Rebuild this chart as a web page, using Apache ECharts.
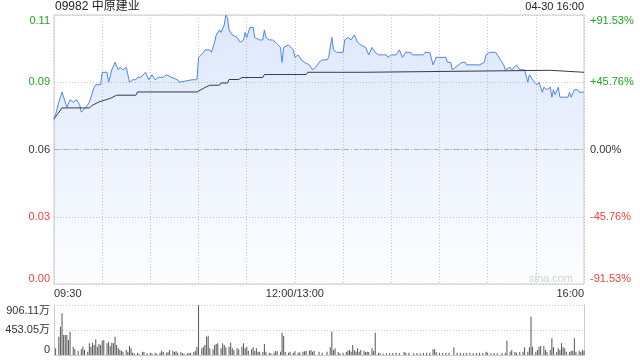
<!DOCTYPE html>
<html>
<head>
<meta charset="utf-8">
<script src="https://cdn.jsdelivr.net/npm/echarts@6/dist/echarts.min.js"></script>
<style>html,body{margin:0;padding:0;background:#fff}#c{width:640px;height:360px}</style>
</head>
<body>
<div id="c"></div>
<script>
const titleText = '09982 中原建业';
const dateText = '04-30 16:00';
const prevClose = 0.059;
const rangePct = 91.53;
const priceTickLabels = ['0.00', '0.03', '0.06', '0.09', '0.11'];
const pctTickLabels = ['-91.53%', '-45.76%', '0.00%', '+45.76%', '+91.53%'];
const volTickLabels = ['0', '453.05万', '906.11万'];
const volMax = 906.11;
const timeTickLabels = {0: '09:30', 150: '12:00/13:00', 330: '16:00'};

const priceMin = [0,1,3,5,6,8,10,12,14,16,17,20,22,23,25,26,29,30,33,34,36,38,40,41,43,45,46,47,49,51,52,54,57,59,61,63,65,68,70,73,77,78,86,89,90,93,94,97,98,100,101,103,104,106,107,108,109,111,112,114,116,118,119,120,122,124,125,128,130,131,132,134,136,138,139,141,142,143,146,147,149,150,152,154,156,159,161,163,165,167,170,171,173,174,176,180,181,183,184,185,187,189,191,194,196,198,200,202,205,207,208,210,213,215,217,219,222,223,230,231,234,236,238,244,245,247,248,252,254,256,257,259,265,268,269,271,275,278,280,281,284,285,288,290,293,295,296,298,299,301,302,304,305,307,309,310,311,312,314,315,320,321,322,324,326,327,330];
const priceVal = [0.071,0.073,0.078,0.082,0.080,0.076,0.079,0.078,0.079,0.077,0.074,0.076,0.078,0.080,0.084,0.085,0.085,0.090,0.090,0.086,0.091,0.094,0.091,0.092,0.091,0.092,0.089,0.086,0.087,0.087,0.088,0.088,0.090,0.087,0.089,0.087,0.088,0.088,0.089,0.088,0.087,0.086,0.087,0.087,0.096,0.098,0.099,0.099,0.098,0.102,0.105,0.107,0.106,0.109,0.113,0.112,0.107,0.105,0.105,0.104,0.102,0.103,0.106,0.104,0.108,0.108,0.104,0.103,0.103,0.107,0.104,0.103,0.103,0.102,0.102,0.100,0.094,0.100,0.101,0.101,0.099,0.096,0.097,0.095,0.094,0.093,0.091,0.092,0.094,0.095,0.095,0.096,0.104,0.099,0.098,0.098,0.103,0.104,0.104,0.103,0.105,0.102,0.101,0.100,0.097,0.100,0.098,0.097,0.097,0.097,0.096,0.097,0.097,0.099,0.096,0.098,0.098,0.097,0.097,0.098,0.098,0.093,0.096,0.096,0.094,0.094,0.091,0.093,0.094,0.094,0.093,0.093,0.093,0.094,0.097,0.098,0.098,0.095,0.093,0.091,0.092,0.091,0.093,0.091,0.091,0.086,0.089,0.087,0.086,0.085,0.086,0.082,0.084,0.083,0.084,0.080,0.083,0.081,0.084,0.080,0.080,0.082,0.080,0.083,0.083,0.082,0.082];

const avgMin = [0,2,5,22,24,28,35,39,51,52,89,91,94,97,103,104,108,109,115,117,130,131,157,158,192,193,309,310,330];
const avgVal = [0.0714,0.0730,0.0757,0.0757,0.0768,0.0781,0.0795,0.0808,0.0808,0.0821,0.0821,0.0828,0.0839,0.0848,0.0848,0.0857,0.0857,0.0871,0.0871,0.0879,0.0879,0.0891,0.0891,0.0900,0.0900,0.0908,0.0908,0.0900,0.0900];

const volMinute = [1,3,4,5,6,7,8,9,10,12,13,15,17,18,19,21,22,23,24,25,26,27,28,29,30,31,33,34,35,36,37,38,39,40,41,42,43,45,46,47,48,49,50,52,53,55,56,58,60,61,63,64,66,67,68,70,71,72,74,75,76,77,79,80,81,83,84,85,87,88,89,90,92,93,94,95,96,97,99,100,101,102,104,105,106,107,109,110,111,112,114,115,117,118,119,120,121,123,124,125,126,127,128,130,131,132,134,135,137,138,139,141,142,143,144,146,147,149,150,152,153,155,156,157,159,160,161,162,165,167,170,172,173,174,175,177,178,180,182,183,184,185,186,187,188,189,190,191,193,194,195,196,198,199,200,202,203,205,207,209,211,213,215,218,219,221,224,226,228,230,232,234,236,237,238,240,242,244,246,249,251,253,255,257,259,261,263,265,267,269,270,272,274,276,279,281,282,284,285,287,288,290,292,293,295,296,297,298,300,301,302,303,305,306,307,309,310,311,313,314,315,316,317,318,319,321,322,323,324,325,327,328,329,330];
const volVal = [121,332,513,755,362,362,362,272,423,151,103,78,103,151,91,60,211,151,223,181,284,151,199,181,260,272,211,242,163,223,211,332,181,121,91,78,60,91,60,163,121,42,30,42,18,60,54,30,42,30,42,24,42,78,54,42,54,91,78,54,66,42,48,30,24,30,30,42,54,78,151,906.11,121,151,181,332,350,121,103,181,199,211,121,211,181,139,151,223,121,91,121,103,151,211,121,151,78,103,139,72,121,60,60,54,199,60,42,30,42,72,66,60,405,344,54,42,60,42,66,42,48,60,66,72,78,91,60,78,60,42,60,139,423,91,121,54,30,42,54,78,91,60,181,91,60,121,60,91,78,54,60,54,121,72,405,42,30,24,30,36,36,42,36,54,42,42,30,36,30,36,42,42,103,103,54,42,36,36,42,139,42,36,30,36,42,30,36,42,36,60,42,30,36,30,30,42,260,60,91,54,42,54,60,139,60,139,694,151,60,91,151,163,163,91,54,91,302,139,60,121,91,211,139,121,60,54,72,78,302,60,78,54,91,78];

const toPct = p => (p / prevClose - 1) * 100;
const pctInterval = rangePct / 2;
const FONT = "Arial, 'Liberation Sans', 'Noto Sans CJK SC', sans-serif";
const GREEN = '#1ea51e', RED = '#f0413c', DARK = '#333';
const tickIdx = v => Math.round(v / pctInterval) + 2;
const colorKey = i => i > 2 ? 'g' : (i < 2 ? 'r' : 'k');
const richLbl = {
  g: {color: GREEN, fontSize: 11, fontFamily: FONT},
  r: {color: RED, fontSize: 11, fontFamily: FONT},
  k: {color: DARK, fontSize: 11, fontFamily: FONT}
};

const chart = echarts.init(document.getElementById('c'), null, {renderer: 'canvas'});
chart.setOption({
  animation: false,
  backgroundColor: '#fff',
  textStyle: {fontFamily: FONT},
  title: [
    {text: titleText, left: 55, top: 1, padding: 0, textStyle: {fontSize: 12, fontWeight: 'normal', color: '#222', fontFamily: FONT}},
    {text: dateText, right: 56, top: 1, padding: 0, textStyle: {fontSize: 11, fontWeight: 'normal', color: '#222', fontFamily: FONT}},
    {text: 'sina.com', right: 67, top: 273, padding: 0, textStyle: {fontSize: 11, fontWeight: 'normal', color: '#d2d2d2', fontFamily: FONT}}
  ],
  grid: [
    {left: 54, right: 56, top: 15, height: 269, show: true, borderColor: '#cccccc', borderWidth: 1, backgroundColor: 'transparent'},
    {left: 54, right: 56, top: 305, height: 50}
  ],
  xAxis: [
    {gridIndex: 0, type: 'value', min: 0, max: 330, interval: 30,
     axisLine: {show: false}, axisTick: {show: false},
     splitLine: {show: true, lineStyle: {color: '#c8c8c8', type: [1, 2], width: 1}},
     axisLabel: {show: true, margin: 4, fontSize: 11, color: DARK, fontFamily: FONT,
       alignMinLabel: 'left', alignMaxLabel: 'right',
       formatter: v => timeTickLabels[Math.round(v)] || ''}},
    {gridIndex: 1, type: 'value', min: 0, max: 330, interval: 30,
     axisLine: {show: true, lineStyle: {color: '#cccccc'}}, axisTick: {show: false},
     splitLine: {show: false}, axisLabel: {show: false}}
  ],
  yAxis: [
    {gridIndex: 0, type: 'value', position: 'left', min: -rangePct, max: rangePct, interval: pctInterval,
     axisLine: {show: false}, axisTick: {show: false},
     splitLine: {show: true, lineStyle: {color: '#c8c8c8', type: [1, 2], width: 1}},
     axisLabel: {margin: 4, verticalAlignMaxLabel: 'top', verticalAlignMinLabel: 'bottom',
       formatter: v => { const i = tickIdx(v); return '{' + colorKey(i) + '|' + priceTickLabels[i] + '}'; },
       rich: richLbl}},
    {gridIndex: 0, type: 'value', position: 'right', min: -rangePct, max: rangePct, interval: pctInterval,
     axisLine: {show: false}, axisTick: {show: false}, splitLine: {show: false},
     axisLabel: {margin: 6, verticalAlignMaxLabel: 'top', verticalAlignMinLabel: 'bottom',
       formatter: v => { const i = tickIdx(v); return '{' + colorKey(i) + '|' + pctTickLabels[i] + '}'; },
       rich: richLbl}},
    {gridIndex: 1, type: 'value', position: 'left', min: 0, max: volMax, interval: volMax / 2,
     axisLine: {show: true, lineStyle: {color: '#cccccc'}}, axisTick: {show: false},
     splitLine: {show: true, lineStyle: {color: '#c8c8c8', type: [1, 2], width: 1}},
     axisLabel: {margin: 4, fontSize: 11, color: DARK, fontFamily: FONT,
       verticalAlignMaxLabel: 'top', verticalAlignMinLabel: 'bottom',
       formatter: v => volTickLabels[Math.round(v / (volMax / 2))]}},
    {gridIndex: 1, type: 'value', position: 'right', min: 0, max: volMax, interval: volMax / 2,
     axisLine: {show: true, lineStyle: {color: '#cccccc'}}, axisTick: {show: false},
     splitLine: {show: false}, axisLabel: {show: false}}
  ],
  series: [
    {type: 'line', xAxisIndex: 0, yAxisIndex: 0, showSymbol: false, symbol: 'none',
     data: priceMin.map((m, i) => [m, toPct(priceVal[i])]),
     lineStyle: {color: '#4d86ee', width: 1},
     areaStyle: {origin: 'start', color: new echarts.graphic.LinearGradient(0, 0, 0, 1, [
       {offset: 0, color: 'rgba(77,134,238,0.28)'},
       {offset: 1, color: 'rgba(77,134,238,0.02)'}])},
     markLine: {silent: true, symbol: 'none', label: {show: false},
       lineStyle: {color: '#b0b0b0', type: [5, 2, 1, 2], width: 1},
       data: [{yAxis: toPct(prevClose)}]},
     z: 3},
    {type: 'line', xAxisIndex: 0, yAxisIndex: 0, showSymbol: false, symbol: 'none',
     data: avgMin.map((m, i) => [m, toPct(avgVal[i])]),
     lineStyle: {color: '#353c48', width: 1}, z: 4},
    {type: 'bar', xAxisIndex: 1, yAxisIndex: 2, barWidth: 1,
     data: volMinute.map((m, i) => [m, volVal[i]]),
     itemStyle: {color: '#555555'}}
  ]
});
</script>
</body>
</html>
